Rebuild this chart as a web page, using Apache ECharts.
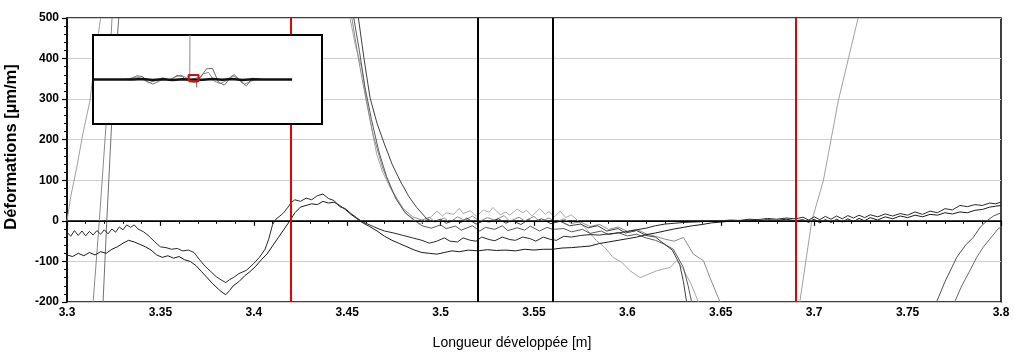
<!DOCTYPE html>
<html>
<head>
<meta charset="utf-8">
<script src="https://cdn.jsdelivr.net/npm/echarts@6/dist/echarts.min.js"></script>
<style>
html,body{margin:0;padding:0;background:#fff;}
#c{width:1014px;height:354px;}
</style>
</head>
<body>
<div id="c"></div>
<script>
// ---- axis ranges / ticks ----
const X_RANGE = [3.3, 3.8];
const Y_RANGE = [-200, 500];
const X_STEP = 0.05;
const Y_STEP = 100;
const RED_LINES = [3.42, 3.69];
const BLACK_LINES = [3.52, 3.56];

// ---- dark measurement lines ----
const darkA = [[3.300,-28],[3.302,-38],[3.304,-24],[3.306,-36],[3.308,-25],[3.310,-37],[3.312,-26],[3.314,-35],[3.316,-24],[3.318,-33],[3.320,-22],[3.322,-32],[3.324,-20],[3.326,-28],[3.328,-15],[3.330,-22],[3.332,-10],[3.334,-16],[3.336,-10],[3.338,-20],[3.341,-27],[3.344,-38],[3.347,-52],[3.350,-64],[3.353,-66],[3.356,-70],[3.359,-68],[3.362,-74],[3.365,-72],[3.368,-78],[3.371,-96],[3.374,-112],[3.377,-125],[3.380,-138],[3.383,-147],[3.385,-152],[3.387,-145],[3.389,-140],[3.392,-130],[3.396,-122],[3.400,-105],[3.403,-90],[3.406,-70],[3.408,-45],[3.410,-10],[3.412,5],[3.414,12],[3.416,20],[3.418,32],[3.420,45],[3.422,52],[3.425,48],[3.428,56],[3.431,52],[3.434,62],[3.437,66],[3.440,55],[3.443,50],[3.446,35],[3.449,30],[3.452,18],[3.455,8],[3.458,-2],[3.461,-8],[3.464,-14],[3.467,-20],[3.470,-25],[3.475,-30],[3.480,-36],[3.485,-42],[3.490,-48],[3.494,-55],[3.498,-50],[3.502,-42],[3.505,-50],[3.509,-52],[3.512,-42],[3.516,-48],[3.519,-50],[3.522,-40],[3.526,-46],[3.529,-49],[3.533,-40],[3.537,-46],[3.540,-48],[3.544,-40],[3.548,-44],[3.551,-50],[3.555,-40],[3.559,-46],[3.562,-48],[3.566,-38],[3.570,-40],[3.575,-36],[3.580,-34],[3.585,-35],[3.590,-32],[3.595,-30],[3.600,-26],[3.605,-22],[3.610,-18],[3.615,-12],[3.620,-8],[3.625,-6],[3.630,-4],[3.635,-3],[3.640,-2],[3.645,-1],[3.650,0],[3.655,2],[3.660,1],[3.665,4],[3.670,3],[3.675,6],[3.680,4],[3.685,7],[3.690,5],[3.694,9],[3.697,2],[3.700,10],[3.703,3],[3.706,11],[3.709,4],[3.712,12],[3.715,5],[3.718,13],[3.721,7],[3.724,14],[3.727,8],[3.730,15],[3.734,10],[3.738,17],[3.742,12],[3.746,18],[3.750,14],[3.754,22],[3.758,16],[3.762,24],[3.766,20],[3.770,30],[3.774,27],[3.778,38],[3.782,35],[3.786,40],[3.790,38],[3.794,44],[3.797,42],[3.800,46]];

const darkB = [[3.300,-84],[3.303,-88],[3.306,-80],[3.309,-86],[3.312,-78],[3.315,-84],[3.318,-76],[3.321,-80],[3.324,-70],[3.327,-64],[3.330,-55],[3.333,-48],[3.336,-52],[3.339,-58],[3.342,-64],[3.345,-72],[3.348,-84],[3.351,-90],[3.354,-86],[3.357,-92],[3.360,-88],[3.363,-96],[3.366,-100],[3.369,-110],[3.372,-125],[3.375,-140],[3.378,-155],[3.381,-168],[3.383,-176],[3.385,-182],[3.387,-172],[3.389,-160],[3.392,-150],[3.395,-136],[3.398,-125],[3.401,-112],[3.404,-96],[3.407,-82],[3.410,-62],[3.413,-42],[3.416,-22],[3.419,-2],[3.422,20],[3.425,34],[3.428,38],[3.431,42],[3.434,40],[3.437,48],[3.440,44],[3.443,46],[3.446,38],[3.449,28],[3.452,16],[3.455,6],[3.458,-4],[3.462,-14],[3.466,-25],[3.470,-38],[3.474,-48],[3.478,-56],[3.482,-64],[3.486,-72],[3.490,-78],[3.494,-80],[3.498,-82],[3.502,-78],[3.506,-74],[3.510,-76],[3.515,-72],[3.520,-74],[3.525,-71],[3.530,-73],[3.535,-72],[3.540,-74],[3.545,-70],[3.550,-72],[3.555,-70],[3.560,-70],[3.565,-67],[3.570,-66],[3.575,-64],[3.580,-62],[3.585,-56],[3.590,-52],[3.595,-48],[3.600,-44],[3.605,-40],[3.610,-34],[3.615,-30],[3.620,-25],[3.625,-20],[3.630,-16],[3.635,-12],[3.640,-9],[3.645,-5],[3.650,-3],[3.655,-1],[3.660,0],[3.665,2],[3.670,0],[3.675,3],[3.680,1],[3.685,4],[3.690,0],[3.694,3],[3.697,-4],[3.700,4],[3.703,-5],[3.706,3],[3.709,-4],[3.712,4],[3.715,-3],[3.718,5],[3.721,-2],[3.724,6],[3.727,0],[3.730,8],[3.734,2],[3.738,10],[3.742,5],[3.746,12],[3.750,8],[3.754,14],[3.758,10],[3.762,16],[3.766,14],[3.770,20],[3.774,17],[3.778,22],[3.782,20],[3.786,26],[3.790,28],[3.794,34],[3.797,36],[3.800,38]];

// ---- lines falling from the top near 3.45 ----
const fallD1 = [[3.4560,500],[3.4590,400],[3.4622,304],[3.4660,240],[3.4693,197],[3.4740,140],[3.4783,99],[3.4830,60],[3.4872,33],[3.4926,5],[3.4960,-2],[3.500,4],[3.503,-6],[3.507,2],[3.511,-4],[3.514,7],[3.519,-8],[3.523,0],[3.526,-3],[3.531,5],[3.535,-6],[3.538,1],[3.543,-9],[3.547,3],[3.550,-2],[3.554,5],[3.559,-7],[3.564,-1],[3.569,-12],[3.575,-8],[3.579,-17],[3.584,-12],[3.589,-25],[3.595,-19],[3.599,-30],[3.605,-24],[3.610,-36],[3.615,-40],[3.620,-58],[3.624,-72],[3.628,-107],[3.630,-150],[3.6317,-200]];
const fallD2 = [[3.4535,500],[3.4565,420],[3.4595,330],[3.4630,250],[3.4670,170],[3.4710,110],[3.4760,55],[3.4810,20],[3.4860,2],[3.4900,-12],[3.495,-18],[3.500,-10],[3.503,-19],[3.508,-13],[3.511,-23],[3.517,-12],[3.521,-25],[3.524,-16],[3.529,-21],[3.533,-12],[3.536,-24],[3.541,-17],[3.545,-23],[3.548,-13],[3.553,-25],[3.557,-16],[3.560,-21],[3.566,-19],[3.570,-27],[3.576,-21],[3.580,-31],[3.586,-25],[3.590,-34],[3.595,-29],[3.600,-37],[3.605,-33],[3.610,-42],[3.615,-48],[3.620,-58],[3.6246,-70],[3.6300,-115],[3.6325,-160],[3.6344,-200]];
const fallD3 = [[3.4525,500],[3.4560,400],[3.4600,300],[3.4640,210],[3.4690,130],[3.4740,75],[3.4800,30],[3.4850,10],[3.4900,2],[3.494,9],[3.497,-3],[3.502,7],[3.505,-4],[3.509,10],[3.513,1],[3.517,12],[3.521,-1],[3.525,8],[3.529,2],[3.534,13],[3.537,-1],[3.542,9],[3.545,0],[3.550,11],[3.553,-2],[3.558,7],[3.562,-3],[3.566,5],[3.570,-6],[3.575,-3],[3.580,-14],[3.585,-9],[3.590,-21],[3.595,-15],[3.600,-26],[3.605,-21],[3.610,-32],[3.615,-38],[3.620,-45],[3.625,-50],[3.630,-41],[3.6353,-82],[3.6407,-98],[3.6442,-140],[3.6496,-200]];
const fallD4 = [[3.4515,500],[3.4545,430],[3.4578,377],[3.4604,296],[3.4630,230],[3.4658,164],[3.4690,120],[3.4730,82],[3.4775,45],[3.4819,16],[3.4860,0],[3.4890,-8],[3.492,3],[3.495,10],[3.498,24],[3.501,12],[3.503,20],[3.507,16],[3.510,31],[3.512,18],[3.516,25],[3.519,11],[3.523,27],[3.526,21],[3.528,33],[3.532,15],[3.535,22],[3.537,14],[3.541,29],[3.544,20],[3.546,26],[3.549,12],[3.553,30],[3.556,16],[3.558,23],[3.561,10],[3.564,24],[3.567,8],[3.570,15],[3.574,-2],[3.578,-20],[3.5835,-49],[3.588,-66],[3.5923,-90],[3.597,-102],[3.6014,-123],[3.6068,-140],[3.611,-132],[3.6157,-123],[3.620,-118],[3.6228,-115],[3.6264,-98],[3.630,-120],[3.634,-155],[3.6380,-200]];

// ---- steep lines ----
const steepL1 = [[3.3000,0],[3.3020,60],[3.3052,131],[3.3085,215],[3.3123,296],[3.3155,419],[3.3180,500]];
const steepL2 = [[3.3140,-200],[3.3173,0],[3.3218,296],[3.3241,500]];
const steepL3 = [[3.3193,-200],[3.3213,0],[3.3245,296],[3.3277,500]];
const steepR1 = [[3.6923,-200],[3.6987,0],[3.7049,99],[3.7129,296],[3.7235,500]];
const riseR2 = [[3.7655,-200],[3.7700,-150],[3.7763,-90],[3.7810,-60],[3.7851,-41],[3.7890,-15],[3.7924,0],[3.7960,12],[3.8000,20]];
const riseR3 = [[3.7752,-200],[3.7790,-160],[3.7833,-123],[3.7870,-90],[3.7903,-66],[3.7940,-45],[3.7984,-20],[3.8000,-15]];

// ---- inset (overview) ----
const INSET_X = [-1.5, 10];
const INSET_Y = [-5000, 5000];
const insetBase = [[-1.5,0],[0.5,0],[1.0,60],[1.5,-60],[2.0,40],[2.5,-50],[3.0,30],[3.3,0],[4.0,-40],[4.5,50],[5.0,-40],[5.5,60],[6.0,-50],[6.5,30],[7.0,0],[8.5,0]];
const insetW1 = [[0,0],[0.5,100],[0.7,420],[1.0,320],[1.2,-200],[1.5,-520],[1.8,-200],[2.1,120],[2.4,-120],[2.7,460],[3.0,320],[3.2,-100],[3.35,0],[3.9,250],[4.2,1200],[4.5,1250],[4.8,-300],[5.1,-620],[5.4,200],[5.6,560],[5.9,-200],[6.2,-720],[6.5,150],[6.8,0]];
const insetW2 = [[0.2,0],[0.6,300],[0.9,150],[1.3,-350],[1.6,-150],[2.0,200],[2.3,-50],[2.6,250],[2.9,500],[3.2,200],[3.4,-250],[3.7,-400],[4.0,600],[4.3,800],[4.6,-200],[4.9,-450],[5.2,-100],[5.5,450],[5.8,100],[6.1,-500],[6.4,-250],[6.7,100],[7.0,0]];
const insetSpikeUp = [[3.36,0],[3.37,5000]];
const insetSpikeDown = [[3.70,0],[3.71,-900]];

function line(data, color, width, extra) {
  return Object.assign({
    type: 'line', data: data, showSymbol: false, symbol: 'none',
    lineStyle: { color: color, width: width }, z: 2, silent: true
  }, extra || {});
}

const insetRect = [
  [X_RANGE[0], Y_RANGE[0]], [X_RANGE[1], Y_RANGE[0]],
  [X_RANGE[1], Y_RANGE[1]], [X_RANGE[0], Y_RANGE[1]], [X_RANGE[0], Y_RANGE[0]]
];

const chart = echarts.init(document.getElementById('c'), null, { renderer: 'canvas' });
const labelFont = { color: '#000', fontFamily: 'Liberation Sans', fontWeight: 'bold', fontSize: 12 };

chart.setOption({
  animation: false,
  textStyle: { fontFamily: 'Liberation Sans' },
  grid: [
    { left: 67, right: 13, top: 18, bottom: 52, show: true, borderColor: '#000', borderWidth: 1.5, backgroundColor: 'transparent', outerBoundsMode: 'none', containLabel: false },
    { left: 93, top: 35, width: 229, height: 89, show: true, borderColor: '#000', borderWidth: 2, backgroundColor: '#fff', z: 10, outerBoundsMode: 'none', containLabel: false }
  ],
  xAxis: [
    {
      type: 'value', gridIndex: 0, min: X_RANGE[0], max: X_RANGE[1], interval: X_STEP,
      name: 'Longueur développée [m]', nameLocation: 'middle', nameGap: 34,
      nameTextStyle: { color: '#000', fontSize: 14, fontFamily: 'Liberation Sans', padding: [0, 44, 0, 0] },
      axisLine: { lineStyle: { color: '#000', width: 1.5 } },
      axisTick: { show: true, length: 5, lineStyle: { color: '#000', width: 1.2 } },
      minorTick: { show: true, splitNumber: 5, length: 3, lineStyle: { color: '#000', width: 1 } },
      splitLine: { show: false },
      axisLabel: Object.assign({ margin: 5, hideOverlap: false, showMinLabel: true, showMaxLabel: true }, labelFont)
    },
    { type: 'value', gridIndex: 1, min: INSET_X[0], max: INSET_X[1], show: false, splitLine: { show: false } }
  ],
  yAxis: [
    {
      type: 'value', gridIndex: 0, min: Y_RANGE[0], max: Y_RANGE[1], interval: Y_STEP,
      name: 'Déformations [µm/m]', nameLocation: 'middle', nameGap: 47,
      nameTextStyle: { color: '#000', fontSize: 16.5, fontWeight: 'bold', fontFamily: 'Liberation Sans', padding: [0, 0, 0, 26] },
      axisLine: { show: true, lineStyle: { color: '#000', width: 1.5 } },
      axisTick: { show: true, length: 5, lineStyle: { color: '#000', width: 1.2 } },
      minorTick: { show: true, splitNumber: 5, length: 3, lineStyle: { color: '#000', width: 1 } },
      splitLine: { show: true, lineStyle: { color: '#cfcfcf', width: 1 } },
      axisLabel: Object.assign({ margin: 8 }, labelFont)
    },
    { type: 'value', gridIndex: 1, min: INSET_Y[0], max: INSET_Y[1], show: false, splitLine: { show: false } }
  ],
  series: [
    line(steepL1, '#a0a0a0', 1),
    line(steepL2, '#8a8a8a', 1),
    line(steepL3, '#707070', 1),
    line(fallD4, '#a8a8a8', 1),
    line(fallD3, '#8c8c8c', 1),
    line(fallD2, '#5a5a5a', 1),
    line(fallD1, '#404040', 1),
    line(steepR1, '#a0a0a0', 1),
    line(riseR2, '#505050', 1),
    line(riseR3, '#6a6a6a', 1),
    line(darkB, '#1a1a1a', 1),
    line(darkA, '#2a2a2a', 1),
    {
      type: 'line', data: [], z: 3, silent: true,
      markLine: {
        symbol: 'none', silent: true, animation: false, label: { show: false },
        lineStyle: { color: '#000', width: 1, type: 'solid' },
        data: [{ yAxis: 0 }]
      }
    },
    {
      type: 'line', data: [], z: 3, silent: true,
      markLine: {
        symbol: 'none', silent: true, animation: false, label: { show: false },
        lineStyle: { color: '#e00000', width: 2, type: 'solid' },
        data: RED_LINES.map(v => ({ xAxis: v }))
      }
    },
    {
      type: 'line', data: [], z: 3, silent: true,
      markLine: {
        symbol: 'none', silent: true, animation: false, label: { show: false },
        lineStyle: { color: '#000', width: 2, type: 'solid' },
        data: BLACK_LINES.map(v => ({ xAxis: v }))
      }
    },
    // inset
    line(insetW2, '#8a8a8a', 1, { xAxisIndex: 1, yAxisIndex: 1, z: 11 }),
    line(insetW1, '#6a6a6a', 1, { xAxisIndex: 1, yAxisIndex: 1, z: 11 }),
    line(insetSpikeUp, '#888888', 1, { xAxisIndex: 1, yAxisIndex: 1, z: 11 }),
    line(insetSpikeDown, '#666666', 1, { xAxisIndex: 1, yAxisIndex: 1, z: 11 }),
    line(insetBase, '#111111', 2.5, { xAxisIndex: 1, yAxisIndex: 1, z: 12 }),
    line(insetRect, '#d01010', 2, { xAxisIndex: 1, yAxisIndex: 1, z: 13 })
  ]
});
</script>
</body>
</html>
